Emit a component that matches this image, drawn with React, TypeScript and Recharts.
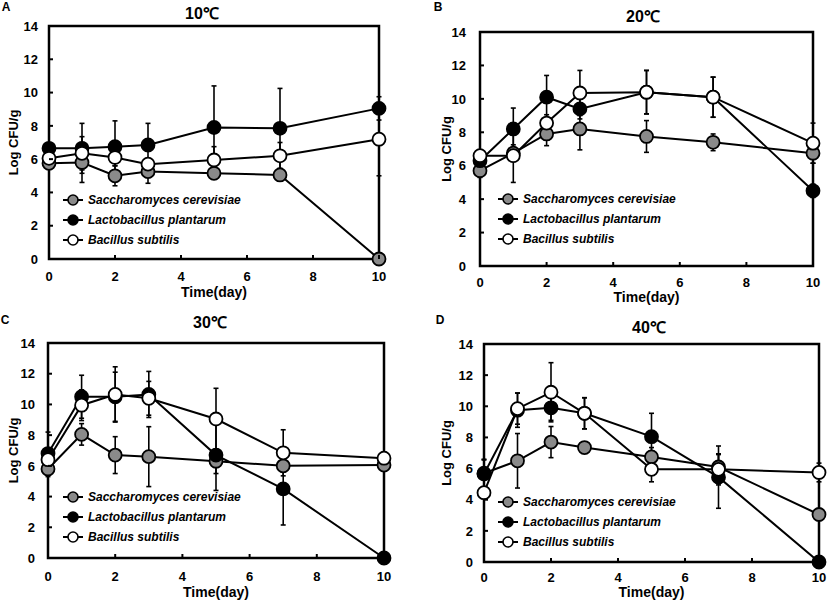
import React from 'react';
import { LineChart, Line, XAxis, YAxis, ErrorBar, ReferenceArea, Legend } from 'recharts';

const days = [0, 1, 2, 3, 5, 7, 10];
const seriesNames = ['Saccharomyces cerevisiae', 'Lactobacillus plantarum', 'Bacillus subtilis'];
const seriesKeys = ['sc', 'lp', 'bs'];
const seriesFills = ['#8a8a8a', '#000000', '#ffffff'];
const xTicks = [0, 2, 4, 6, 8, 10];
const yTicks = [0, 2, 4, 6, 8, 10, 12, 14];
const panelTitles = ['10℃', '20℃', '30℃', '40℃'];
const panelLetters = ['A', 'B', 'C', 'D'];
const xLabel = 'Time(day)';
const yLabel = 'Log CFU/g';

// 10℃
const sc10 = [5.75, 5.8, 5.0, 5.25, 5.15, 5.05, 0];
const lp10 = [6.65, 6.65, 6.75, 6.85, 7.9, 7.85, 9.05];
const bs10 = [6.05, 6.35, 6.1, 5.7, 5.95, 6.2, 7.2];
const sc10Err = [0.3, 1.2, 0.6, 0.7, 0.3, 0.3, 0];
const lp10Err = [0.3, 1.5, 1.55, 1.3, 2.5, 2.4, 0.7];
const bs10Err = [0.3, 1.0, 0.5, 0.3, 0.8, 0.8, 2.2];

// 20℃
const sc20 = [5.7, 6.75, 7.9, 8.2, 7.75, 7.4, 6.75];
const lp20 = [6.3, 8.2, 10.1, 9.4, 10.4, 10.1, 4.5];
const bs20 = [6.6, 6.6, 8.55, 10.35, 10.4, 10.1, 7.35];
const sc20Err = [0.4, 0.5, 0.7, 1.25, 0.95, 0.5, 0.6];
const lp20Err = [0.3, 1.25, 1.3, 0.6, 1.3, 1.2, 0.4];
const bs20Err = [0.3, 1.6, 0.5, 1.35, 1.3, 1.2, 1.2];

// 30℃
const sc30 = [5.8, 8.05, 6.7, 6.6, 6.3, 6.0, 6.05];
const lp30 = [6.8, 10.5, 10.5, 10.65, 6.7, 4.5, 0];
const bs30 = [6.4, 9.95, 10.65, 10.4, 9.05, 6.85, 6.5];
const sc30Err = [0.5, 0.7, 1.2, 1.95, 0.8, 0.4, 0.3];
const lp30Err = [1.4, 1.4, 1.6, 1.5, 2.3, 2.35, 0];
const bs30Err = [0.6, 1.0, 1.8, 1.1, 2.0, 1.5, 0.4];

// 40℃
const sc40 = [5.7, 6.5, 7.7, 7.35, 6.75, 6.1, 3.05];
const lp40 = [5.65, 9.75, 9.9, 9.55, 8.05, 5.45, 0];
const bs40 = [4.45, 9.85, 10.9, 9.55, 5.95, 5.95, 5.75];
const sc40Err = [0.9, 1.75, 1.0, 0.3, 0.6, 0.8, 0.3];
const lp40Err = [0.9, 1.1, 0.8, 1.0, 1.5, 2.0, 0];
const bs40Err = [0.3, 1.0, 1.9, 1.0, 0.8, 1.0, 0.6];

function buildRows(sc: number[], lp: number[], bs: number[], scE: number[], lpE: number[], bsE: number[]) {
  return days.map((d, i) => ({ day: d, sc: sc[i], lp: lp[i], bs: bs[i], scE: scE[i], lpE: lpE[i], bsE: bsE[i] }));
}

const panelData = [
  buildRows(sc10, lp10, bs10, sc10Err, lp10Err, bs10Err),
  buildRows(sc20, lp20, bs20, sc20Err, lp20Err, bs20Err),
  buildRows(sc30, lp30, bs30, sc30Err, lp30Err, bs30Err),
  buildRows(sc40, lp40, bs40, sc40Err, lp40Err, bs40Err),
];

const FONT = "'Liberation Sans', Arial, sans-serif";

type Layout = {
  box: { l: number; t: number; w: number; h: number };
  plot: { l: number; r: number; t: number; b: number };
  yLabX: number;
  xLabOff: number;
  xGap: number;
  yGap: number;
  legend: { l: number; t: number };
  title: { x: number; y: number };
  letter: { x: number; y: number };
};

const layouts: Layout[] = [
  { box: { l: 0, t: 0, w: 414, h: 310 }, plot: { l: 49, r: 379, t: 26, b: 259 }, yLabX: 13, xLabOff: 2, xGap: 13, yGap: 11, legend: { l: 63, t: 190 }, title: { x: 202, y: 14 }, letter: { x: 6, y: 7 } },
  { box: { l: 413, t: 0, w: 414, h: 310 }, plot: { l: 480, r: 813, t: 32, b: 266 }, yLabX: 33, xLabOff: 4, xGap: 12, yGap: 14, legend: { l: 85, t: 189 }, title: { x: 643, y: 17 }, letter: { x: 438, y: 7 } },
  { box: { l: 0, t: 300, w: 414, h: 302 }, plot: { l: 48, r: 384, t: 343, b: 558 }, yLabX: 13, xLabOff: 1, xGap: 14, yGap: 13, legend: { l: 63, t: 187 }, title: { x: 210, y: 323 }, letter: { x: 5, y: 320 } },
  { box: { l: 413, t: 300, w: 414, h: 302 }, plot: { l: 484, r: 819, t: 344, b: 562 }, yLabX: 33, xLabOff: 5, xGap: 11, yGap: 11, legend: { l: 85, t: 192 }, title: { x: 649, y: 328 }, letter: { x: 440, y: 320 } },
];

const LegendContent = () => (
  <div style={{ fontFamily: FONT }}>
    {seriesNames.map((name, i) => (
      <div key={name} style={{ display: 'flex', alignItems: 'center', height: 20 }}>
        <svg width={20} height={14} style={{ display: 'block' }}>
          <line x1={0} y1={7} x2={20} y2={7} stroke="#000" strokeWidth={2} />
          <circle cx={10} cy={7} r={5} fill={seriesFills[i]} stroke="#000" strokeWidth={1.6} />
        </svg>
        <span style={{ marginLeft: 5, fontSize: 12, fontWeight: 'bold', fontStyle: 'italic', color: '#000', whiteSpace: 'nowrap' }}>{name}</span>
      </div>
    ))}
  </div>
);

const X_AXIS_H = 40;
const TICK_LEN = 4;

// Tick renderers: axis line position is known from layout; draw inward tick + label.
const makeXTick = (axisY: number, gap: number) => (props: any) => {
  const { x, payload } = props;
  return (
    <g>
      <line x1={x} y1={axisY} x2={x} y2={axisY - TICK_LEN} stroke="#000" strokeWidth={2} />
      <text x={x} y={axisY + gap} dy="0.71em" textAnchor="middle" fill="#000" fontSize={13} fontWeight="bold" fontFamily={FONT}>
        {payload.value}
      </text>
    </g>
  );
};

const makeYTick = (axisX: number, gap: number) => (props: any) => {
  const { y, payload } = props;
  return (
    <g>
      <line x1={axisX} y1={y} x2={axisX + TICK_LEN} y2={y} stroke="#000" strokeWidth={2} />
      <text x={axisX - gap} y={y} dy="0.36em" textAnchor="end" fill="#000" fontSize={13} fontWeight="bold" fontFamily={FONT}>
        {payload.value}
      </text>
    </g>
  );
};

function Panel({ idx }: { idx: number }) {
  const L = layouts[idx];
  const { box, plot } = L;
  const margin = {
    top: plot.t - box.t,
    right: box.l + box.w - plot.r,
    bottom: box.t + box.h - plot.b - X_AXIS_H,
    left: 0,
  };
  const axisX = plot.l - box.l;
  const axisY = plot.b - box.t;
  return (
    <div style={{ position: 'absolute', left: box.l, top: box.t }}>
      <LineChart width={box.w} height={box.h} data={panelData[idx]} margin={margin}>
        <ReferenceArea x1={0} x2={10} y1={0} y2={14} fill="none" stroke="#000" strokeWidth={2.5} ifOverflow="visible" />
        <XAxis
          dataKey="day"
          type="number"
          domain={[0, 10]}
          ticks={xTicks}
          interval={0}
          height={X_AXIS_H}
          axisLine={false}
          tickLine={false}
          tick={makeXTick(axisY, L.xGap)}
          label={{ value: xLabel, position: 'insideBottom', offset: L.xLabOff, style: { fill: '#000', fontSize: 14, fontWeight: 'bold', fontFamily: FONT } }}
        />
        <YAxis
          type="number"
          domain={[0, 14]}
          ticks={yTicks}
          interval={0}
          width={axisX}
          axisLine={false}
          tickLine={false}
          tick={makeYTick(axisX, L.yGap)}
          label={{ value: yLabel, angle: -90, position: 'insideLeft', offset: L.yLabX, style: { textAnchor: 'middle', fill: '#000', fontSize: 13, fontWeight: 'bold', fontFamily: FONT } }}
        />
        {seriesKeys.map((k, i) => (
          <Line
            key={k}
            dataKey={k}
            name={seriesNames[i]}
            stroke="#000"
            strokeWidth={2}
            isAnimationActive={false}
            dot={{ r: 6.5, fill: seriesFills[i], stroke: '#000', strokeWidth: 1.8 }}
            activeDot={false}
          >
            <ErrorBar dataKey={k + 'E'} direction="y" width={2.5} stroke="#000" strokeWidth={1.6} />
          </Line>
        ))}
        <Legend
          layout="vertical"
          align="center"
          verticalAlign="middle"
          content={LegendContent}
          wrapperStyle={{ left: L.legend.l, top: L.legend.t, width: 'auto', height: 'auto' }}
        />
      </LineChart>
    </div>
  );
}

function Caption({ x, y, text, size }: { x: number; y: number; text: string; size: number }) {
  return (
    <div
      style={{
        position: 'absolute',
        left: x - 60,
        top: y - 10,
        width: 120,
        height: 20,
        lineHeight: '20px',
        textAlign: 'center',
        fontFamily: FONT,
        fontWeight: 'bold',
        fontSize: size,
        color: '#000',
      }}
    >
      {text}
    </div>
  );
}

export default function App() {
  return (
    <div style={{ position: 'absolute', left: 0, top: 0, width: 827, height: 602, background: '#fff', overflow: 'hidden' }}>
      {layouts.map((L, i) => (
        <React.Fragment key={i}>
          <Panel idx={i} />
          <Caption x={L.title.x} y={L.title.y} text={panelTitles[i]} size={16} />
          <Caption x={L.letter.x} y={L.letter.y} text={panelLetters[i]} size={12} />
        </React.Fragment>
      ))}
    </div>
  );
}
